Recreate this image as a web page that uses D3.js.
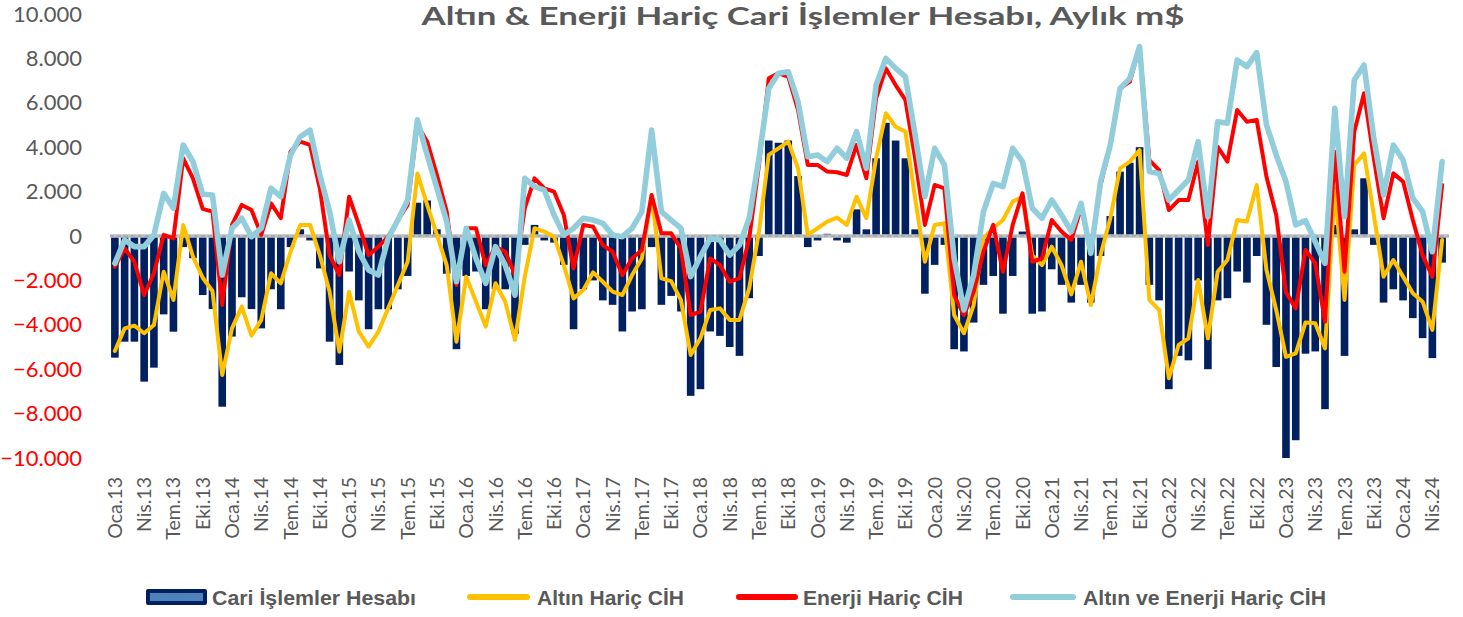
<!DOCTYPE html>
<html><head><meta charset="utf-8">
<script src="https://cdn.jsdelivr.net/npm/d3@7"></script>
<style>body{margin:0;background:#fff;} svg{display:block;}</style>
</head><body>
<svg id="c" width="1463" height="617"></svg>
<script>
const monthNames = ["Oca","Şub","Mar","Nis","May","Haz","Tem","Ağu","Eyl","Eki","Kas","Ara"];
const yearSuffixes = ["13","14","15","16","17","18","19","20","21","22","23","24"];
const monthCount = 137;
const categories = [];
yearSuffixes.forEach(yy => monthNames.forEach(m => { if (categories.length < monthCount) categories.push(m + "." + yy); }));

// Cari İşlemler Hesabı (m$)
const cari = [-5480,-4760,-4760,-6560,-5930,-3530,-4310,-500,-1000,-2660,-3290,-7690,
-4530,-2760,-3290,-4160,-2400,-3300,-500,300,-200,-1460,-4760,-5810,
-1600,-2900,-4200,-3300,-3300,-2400,-1800,1500,1600,300,-1700,-5100,
-1800,-1600,-3300,-2400,-2400,-4400,-400,500,-200,-300,-1300,-4200,
-2400,-2000,-2900,-3100,-4300,-3400,-3300,-500,-3100,-2700,-3400,-7200,
-6900,-4300,-4500,-5000,-5400,-2800,-900,4300,4200,4300,2700,-500,
-200,100,-200,-300,1200,300,3500,5100,4300,3500,300,-2600,
-1300,-400,-5100,-5200,-3900,-2200,-1800,-3500,-1800,200,-3500,-3400,
-1500,-2200,-3000,-2200,-3000,-900,900,2900,3300,4000,-2200,-2900,
-6900,-5400,-5600,-2000,-6000,-2900,-2800,-1600,-2100,-900,-4000,-5900,
-10000,-9200,-5300,-5200,-7800,500,-5400,300,2600,-400,-3000,-2400,
-2900,-3700,-4600,-5500,-1200];

// Altın Hariç CİH
const altinHaric = [-5180,-4160,-4040,-4380,-4010,-1610,-2880,500,-930,-1880,-2480,-6260,
-4160,-3180,-4490,-3780,-1680,-2130,-710,500,500,-860,-2510,-5210,
-2510,-4310,-4980,-4310,-3260,-2210,-1160,2820,1400,50,-1310,-4760,
-1830,-2960,-4080,-2130,-2960,-4680,-1830,350,200,-30,-1310,-2810,
-2430,-1640,-2060,-2510,-2660,-1760,-1010,1850,-1910,-2030,-2880,-5360,
-4610,-3330,-3260,-3780,-3780,-2360,200,3650,3950,4250,3050,50,
350,650,830,500,1770,800,3500,5530,4920,4700,1700,-1160,
500,570,-3560,-4380,-3110,-110,350,720,1550,1770,-860,-1310,
-480,-1310,-2630,-1160,-3110,-860,800,3050,3350,3870,-2880,-3330,
-6410,-4910,-4610,-1980,-4610,-1610,-1080,720,650,2300,-1530,-3330,
-5440,-5290,-3900,-3930,-5060,2150,-2880,3200,3720,950,-1830,-1080,
-1830,-2580,-2960,-4230,-180];

// Enerji Hariç CİH
const enerjiHaric = [-1380,-560,-1160,-2660,-1680,50,-110,3500,2600,1220,1100,-3110,
500,1400,1170,50,1470,800,3800,4250,4100,2150,-860,-1760,
1770,500,-860,-480,-30,720,1400,5000,4250,2750,1100,-2210,
350,350,-1310,-480,-710,-1760,1250,2600,2150,2000,950,-1460,
500,420,-410,-710,-1760,-1010,-630,1850,120,120,-560,-3560,
-3410,-1010,-1310,-2060,-1910,-110,3200,7100,7330,7180,5680,3200,
3200,2900,2870,2750,4100,2600,6200,7550,6800,6130,3500,500,
2300,2150,-2660,-3560,-2510,-710,500,-1610,500,1920,-1160,-1010,
720,200,-180,1250,-560,2300,4100,6650,6950,8530,3420,2970,
1170,1620,1620,3350,-410,4020,3350,5680,5150,5230,2670,950,
-2540,-3260,-630,-1230,-3860,3800,-1610,4700,6430,3500,800,2820,
2450,720,-860,-1830,2300];

// Altın ve Enerji Hariç CİH
const altinEnerjiHaric = [-1230,-180,-480,-480,50,1920,1250,4100,3350,1880,1850,-1760,
350,800,-30,350,2150,1770,3650,4470,4770,2750,1100,-1160,
720,-710,-1530,-1760,-110,720,1620,5230,3650,2150,650,-2060,
350,-1010,-2130,-480,-1310,-2660,2600,2220,2070,950,50,350,
800,720,570,50,-30,350,1100,4770,1100,720,350,-1830,
-930,-110,-180,-860,-410,800,3500,6650,7330,7400,6050,3570,
3650,3350,3950,3500,4700,3050,6800,8000,7550,7180,4550,1770,
3950,3200,-1010,-3330,-1760,1100,2370,2220,3950,3350,1250,800,
1620,950,200,1470,-780,2450,4100,6650,7100,8530,2900,2820,
1620,2070,2520,4250,870,5150,5080,7930,7630,8260,5000,3650,
2450,500,690,-260,-1230,5750,870,7030,7700,4400,1850,4100,
3420,1700,1100,-710,3350];

const yTicks = [-10000,-8000,-6000,-4000,-2000,0,2000,4000,6000,8000,10000];
const xTickLabels = categories.filter((c, i) => i % 3 === 0);
const titleText = "Altın & Enerji Hariç Cari İşlemler Hesabı, Aylık m$";
const legendItems = [
  {name: "Cari İşlemler Hesabı", kind: "bar", color: "#002060"},
  {name: "Altın Hariç CİH", kind: "line", color: "#FFC000"},
  {name: "Enerji Hariç CİH", kind: "line", color: "#FF0000"},
  {name: "Altın ve Enerji Hariç CİH", kind: "line", color: "#92CDDC"}
];

const svg = d3.select("#c");
const FONT = "Lato, 'Open Sans', 'DejaVu Sans', sans-serif";

const x = d3.scaleBand().domain(categories).range([110, 1447]).paddingInner(0.22).paddingOuter(0.11);
const y = d3.scaleLinear().domain([-10000, 10000]).range([458, 14]);
const cx = c => x(c) + x.bandwidth() / 2;

// bars
svg.append("g").selectAll("rect").data(categories).join("rect")
  .attr("x", c => x(c))
  .attr("width", x.bandwidth())
  .attr("y", (c, i) => Math.min(y(cari[i]), y(0)))
  .attr("height", (c, i) => Math.abs(y(cari[i]) - y(0)))
  .attr("fill", "#002060");

// zero line
svg.append("line").attr("x1", 110).attr("x2", 1449).attr("y1", y(0)).attr("y2", y(0))
  .attr("stroke", "#BFBFBF").attr("stroke-width", 3.5);
svg.append("line").attr("x1", 110).attr("x2", 1449).attr("y1", y(0)).attr("y2", y(0))
  .attr("stroke", "#8496B0").attr("stroke-width", 0.8).attr("stroke-dasharray", "4,3");

function drawLine(vals, color, w) {
  const line = d3.line().x((d, i) => cx(categories[i])).y(d => y(d));
  svg.append("path").datum(vals).attr("d", line)
    .attr("fill", "none").attr("stroke", color).attr("stroke-width", w)
    .attr("stroke-linejoin", "round").attr("stroke-linecap", "round");
}
drawLine(altinHaric, "#FFC000", 4);
drawLine(enerjiHaric, "#FF0000", 4);
drawLine(altinEnerjiHaric, "#92CDDC", 5.6);

// y axis
const yAxis = svg.append("g").attr("transform", "translate(82,0)")
  .call(d3.axisLeft(y).tickValues(yTicks).tickSize(0).tickPadding(0)
    .tickFormat(d => d3.format(",")(d).replace(/,/g, ".")));
yAxis.select(".domain").remove();
yAxis.selectAll("text").attr("font-family", FONT).attr("font-size", 22)
  .attr("fill", d => d < 0 ? "#FF0000" : "#595959");

// x axis
const xAxis = svg.append("g").attr("transform", "translate(0,470)")
  .call(d3.axisBottom(x).tickValues(xTickLabels).tickSize(0));
xAxis.select(".domain").remove();
xAxis.selectAll("text")
  .attr("transform", "rotate(-90)")
  .attr("x", -7).attr("y", 0).attr("dy", "0.36em")
  .attr("text-anchor", "end")
  .attr("font-family", FONT).attr("font-size", 19.5).attr("fill", "#595959");

// title
svg.append("text").attr("x", 803).attr("y", 25).attr("text-anchor", "middle")
  .attr("font-family", FONT).attr("font-weight", "bold").attr("font-size", 25)
  .attr("fill", "#595959").attr("textLength", 763).attr("lengthAdjust", "spacingAndGlyphs")
  .text(titleText);

// legend
const legendPos = [
  {sx: 146, sw: 61, tx: 212, tw: 204},
  {sx: 467, sw: 63, tx: 537, tw: 147},
  {sx: 736, sw: 62, tx: 803, tw: 160},
  {sx: 1010, sw: 66, tx: 1083, tw: 243}
];
const lg = svg.append("g");
legendItems.forEach((it, k) => {
  const p = legendPos[k];
  const cy = 597;
  if (it.kind === "bar") {
    lg.append("rect").attr("x", p.sx).attr("y", cy - 8).attr("width", p.sw).attr("height", 16)
      .attr("rx", 2).attr("fill", it.color);
    lg.append("rect").attr("x", p.sx + 4).attr("y", cy - 4).attr("width", p.sw - 8).attr("height", 8)
      .attr("fill", "#4F81BD");
  } else {
    lg.append("line").attr("x1", p.sx + 3).attr("x2", p.sx + p.sw - 3).attr("y1", cy).attr("y2", cy)
      .attr("stroke", it.color).attr("stroke-width", 6).attr("stroke-linecap", "round");
  }
  lg.append("text").attr("x", p.tx).attr("y", cy + 8)
    .attr("font-family", "'Liberation Sans Narrow', 'Liberation Sans', Arial, sans-serif")
    .attr("font-weight", "bold").attr("font-size", 21).attr("fill", "#595959")
    .attr("textLength", p.tw).attr("lengthAdjust", "spacingAndGlyphs")
    .text(it.name);
});
</script>
</body></html>
